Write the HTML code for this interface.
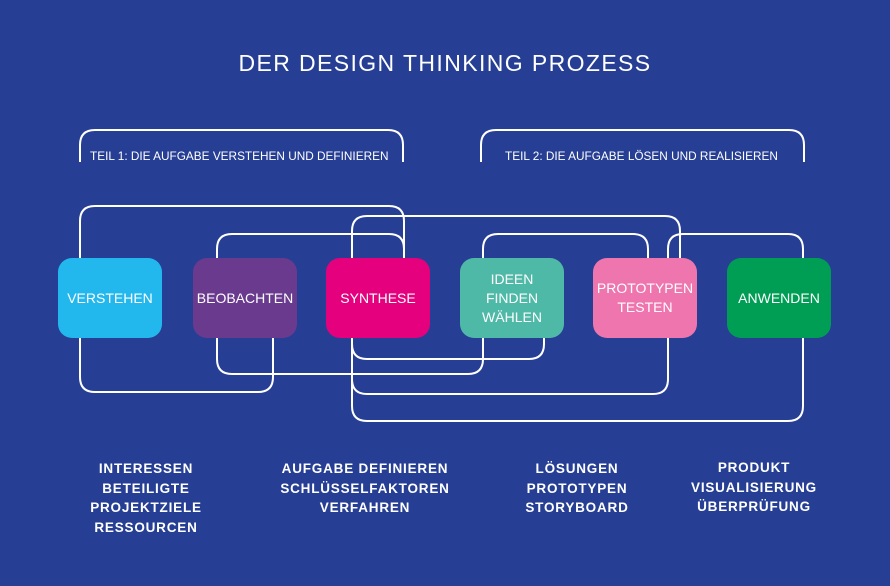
<!DOCTYPE html>
<html><head><meta charset="utf-8"><style>
html,body{margin:0;padding:0}
body{width:890px;height:586px;background:#263f94;position:relative;overflow:hidden;font-family:"Liberation Sans",sans-serif;color:#fff}
.t{position:absolute;white-space:nowrap}
.box{position:absolute;top:258px;width:104px;height:80px;border-radius:14px;display:flex;align-items:center;justify-content:center;text-align:center;font-size:14px;line-height:19px;color:#fff}
.bt{position:absolute;text-align:center;font-size:13.5px;line-height:19.5px;letter-spacing:0.8px;font-weight:bold;width:200px}
</style></head><body>
<svg width="890" height="586" style="position:absolute;left:0;top:0" fill="none" stroke="#fff" stroke-width="2">
<path d="M80 162 V145 Q80 130 95 130 H388 Q403 130 403 145 V162"/>
<path d="M481 162 V145 Q481 130 496 130 H789 Q804 130 804 145 V162"/>
<path d="M80 260 V221 Q80 206 95 206 H389 Q404 206 404 221 V260"/>
<path d="M217 260 V249 Q217 234 232 234 H389 Q404 234 404 249 V260"/>
<path d="M352 260 V231 Q352 216 367 216 H665 Q680 216 680 231 V260"/>
<path d="M483 260 V249 Q483 234 498 234 H633 Q648 234 648 249 V260"/>
<path d="M668 260 V249 Q668 234 683 234 H788 Q803 234 803 249 V260"/>
<path d="M80 336 V377 Q80 392 95 392 H258 Q273 392 273 377 V336"/>
<path d="M217 336 V359 Q217 374 232 374 H468 Q483 374 483 359 V336"/>
<path d="M352 336 V344 Q352 359 367 359 H529 Q544 359 544 344 V336"/>
<path d="M352 336 V379 Q352 394 367 394 H653 Q668 394 668 379 V336"/>
<path d="M352 336 V406 Q352 421 367 421 H788 Q803 421 803 406 V336"/>
</svg>
<div class="t" style="left:0;width:890px;text-align:center;top:50px;font-size:23px;letter-spacing:1.4px">DER DESIGN THINKING PROZESS</div>
<div class="t" style="left:90px;top:149px;font-size:11.8px">TEIL 1: DIE AUFGABE VERSTEHEN UND DEFINIEREN</div>
<div class="t" style="left:505px;top:149px;font-size:11.8px">TEIL 2: DIE AUFGABE LÖSEN UND REALISIEREN</div>
<div class="box" style="left:58px;background:#22b8ee">VERSTEHEN</div>
<div class="box" style="left:193px;background:#6a3a8f">BEOBACHTEN</div>
<div class="box" style="left:326px;background:#e5007e">SYNTHESE</div>
<div class="box" style="left:460px;background:#4fb9a8">IDEEN<br>FINDEN<br>WÄHLEN</div>
<div class="box" style="left:593px;background:#ee75ad">PROTOTYPEN<br>TESTEN</div>
<div class="box" style="left:727px;background:#009e55">ANWENDEN</div>
<div class="bt" style="left:46px;top:459px">INTERESSEN<br>BETEILIGTE<br>PROJEKTZIELE<br>RESSOURCEN</div>
<div class="bt" style="left:265px;top:459px;width:200px">AUFGABE DEFINIEREN<br>SCHLÜSSELFAKTOREN<br>VERFAHREN</div>
<div class="bt" style="left:477px;top:459px">LÖSUNGEN<br>PROTOTYPEN<br>STORYBOARD</div>
<div class="bt" style="left:654px;top:458px">PRODUKT<br>VISUALISIERUNG<br>ÜBERPRÜFUNG</div>
</body></html>
